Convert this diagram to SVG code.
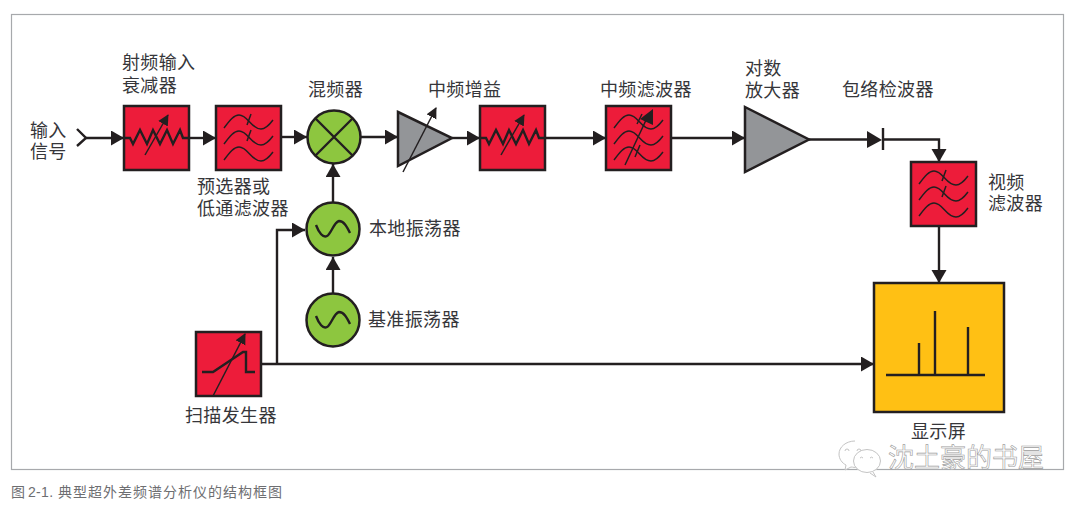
<svg xmlns="http://www.w3.org/2000/svg" width="1080" height="506" viewBox="0 0 1080 506">
<style>
text{font-family:"Noto Sans CJK SC","Liberation Sans",sans-serif;font-size:18px;fill:#36363a;letter-spacing:.35px}
.box{fill:#ed1c3a;stroke:#231f20;stroke-width:2.5}
.green{fill:#8dc63f;stroke:#231f20;stroke-width:2.5}
.tri{fill:#939598;stroke:#231f20;stroke-width:2.5;stroke-linejoin:miter}
.ln{fill:none;stroke:#231f20;stroke-width:2.4}
.thin{fill:none;stroke:#231f20;stroke-width:1.5}
.conn{fill:none;stroke:#231f20;stroke-width:2.4;marker-end:url(#a)}
.plain{fill:none;stroke:#231f20;stroke-width:2.4}
.head{fill:#231f20}
.wm{fill:#fff;stroke:#c4c4c4;stroke-width:1}
</style>
<defs>
<marker id="a" markerUnits="userSpaceOnUse" markerWidth="15" markerHeight="16" refX="13" refY="7.500" orient="auto"><path d="M0 0L13 7.500L0 15Z" fill="#231f20"/></marker>
<marker id="b" markerUnits="userSpaceOnUse" markerWidth="12" markerHeight="12" refX="10" refY="5.500" orient="auto"><path d="M0 0L11 5.500L0 11Z" fill="#231f20"/></marker>
<g id="waves">
<path class="thin" d="M8 22C14 14 18 9 23 9C32 9 35 23 45 23C50 23 54 18 57 14"/>
<path class="thin" d="M8 38C14 30 18 25 23 25C32 25 35 39 45 39C50 39 54 34 57 30"/>
<path class="thin" d="M8 54C14 46 18 41 23 41C32 41 35 55 45 55C50 55 54 50 57 46"/>
</g>
<g id="filter">
<rect class="box" width="65" height="64"/>
<use href="#waves"/>
<path class="thin" d="M35 8L31 19M35 24L31 35"/>
</g>
<g id="atten">
<rect class="box" width="65" height="64"/>
<path d="M0 32H6L9 38L16 24L23 38L29 24L36 38L43 24L49 38L56 24L59 32H65" fill="none" stroke="#231f20" stroke-width="2.400"/>
<path class="thin" d="M21 49L44 9" marker-end="url(#b)"/>
</g>
<g id="osc">
<circle class="green" r="26.500"/>
<path d="M-17 -4C-14 4 -10 9 -6 7C-2 5 1 -7 6 -8C11 -8 14 -2 17 4" fill="none" stroke="#231f20" stroke-width="2.400"/>
</g>
</defs>
<rect width="1080" height="506" fill="#fff"/>
<rect x="11.500" y="14.500" width="1052" height="455" fill="#fff" stroke="#a7a9ac" stroke-width="1.200"/>

<g id="connectors">
<path class="conn" d="M86 138H124"/>
<path class="conn" d="M189 138H216"/>
<path class="conn" d="M281 137H307"/>
<path class="conn" d="M361 137H398"/>
<path class="conn" d="M452 138H480"/>
<path class="conn" d="M545 138H606"/>
<path class="conn" d="M671 138H745"/>
<path class="plain" d="M809 139.500H867"/>
<path class="conn" d="M883 139.500H939V162"/>
<path class="conn" d="M939 227V283"/>
<path class="conn" d="M333 202V164"/>
<path class="conn" d="M333 293V257"/>
<path class="conn" d="M261 364H874"/>
<path class="conn" d="M277 364V230H305"/>
</g>

<g id="input"><path d="M77 129L86 138L77 146" fill="none" stroke="#231f20" stroke-width="2.400"/><text x="30" y="137">输入</text><text x="30" y="158">信号</text></g>
<g id="attenuator"><use href="#atten" x="124" y="106"/><text x="122" y="69">射频输入</text><text x="122" y="92">衰减器</text></g>
<g id="preselector"><use href="#filter" x="216" y="106"/><text x="197" y="193">预选器或</text><text x="197" y="215">低通滤波器</text></g>
<g id="mixer"><circle class="green" cx="334" cy="137" r="26.500"/><path class="ln" d="M315 118L353 156M353 118L315 156"/><text x="308" y="96">混频器</text></g>
<g id="if-gain"><path class="tri" d="M398 112L452 138L398 166Z"/><path class="thin" d="M403 172L436 108" marker-end="url(#b)"/><text x="428" y="96">中频增益</text></g>
<g id="if-atten"><use href="#atten" x="480" y="106"/></g>
<g id="if-filter"><rect class="box" x="606" y="106" width="65" height="64"/>
<use href="#waves" x="606" y="106"/>
<path class="thin" d="M642 114L637 124M640 145L635 157M625 165L647 118"/><path class="head" d="M653 109L653 125L640 119Z"/><text x="600" y="96">中频滤波器</text></g>
<g id="log-amp"><path class="tri" d="M745 107L809 139.500L745 172Z"/><text x="745" y="75">对数</text><text x="745" y="97">放大器</text></g>
<g id="detector"><path class="head" d="M867 131L882 140L867 148Z"/><path d="M883 128V150" stroke="#231f20" stroke-width="2.400" fill="none"/><text x="842" y="96">包络检波器</text></g>
<g id="video-filter"><use href="#filter" x="911" y="162"/><text x="988" y="189">视频</text><text x="988" y="210">滤波器</text></g>
<g id="display"><rect x="874" y="283" width="130" height="129" fill="#ffc014" stroke="#231f20" stroke-width="2.500"/><path class="ln" d="M886 375H985M919 375V343M935 375V311M968 375V327"/><text x="911" y="438">显示屏</text></g>
<g id="local-osc"><use href="#osc" x="333" y="229"/><text x="369" y="235">本地振荡器</text></g>
<g id="ref-osc"><use href="#osc" x="333" y="320"/><text x="368" y="326">基准振荡器</text></g>
<g id="sweep"><rect class="box" x="196" y="332" width="65" height="64"/><path class="ln" d="M202 372H213L243 352H246V372H255"/><path class="thin" d="M213 396L245 334" marker-end="url(#b)"/><text x="185" y="422">扫描发生器</text></g>

<g id="watermark">
<path class="wm" d="M855 441C846 441 839 447 839 454C839 459 842 463 846 465L845 470L851 467C853 467 855 468 857 467"/>
<ellipse class="wm" cx="867" cy="461" rx="13.500" ry="11.500"/>
<path class="wm" d="M845 451a2 2 0 0 1 4 0M857 451a2 2 0 0 1 4 0M860 458a2 2 0 0 1 3 0M870 458a2 2 0 0 1 3 0" style="fill:none"/>
<path class="wm" d="M873 472L876 477L870 473" style="fill:#fff"/>
<text x="888" y="467" style="font-size:26px;letter-spacing:0;fill:#fff;stroke:#9c9c9c;stroke-width:.6">沈土豪的书屋</text>
</g>
<text x="11" y="497" style="font-size:14px;letter-spacing:1px;fill:#6d6e71">图<tspan x="28" style="font-family:'Liberation Sans',sans-serif;letter-spacing:.3px">2-1.</tspan><tspan x="58">典型超外差频谱分析仪的结构框图</tspan></text>
</svg>
